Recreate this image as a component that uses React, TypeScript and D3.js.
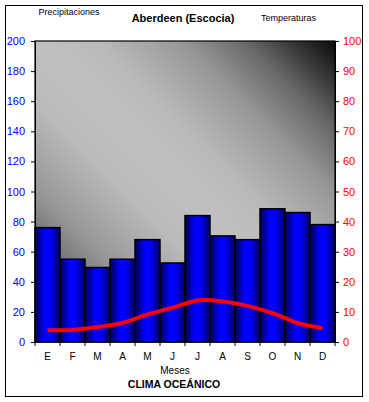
import React, { useEffect, useRef } from "react";
import * as d3 from "d3";

const months = ["E", "F", "M", "A", "M", "J", "J", "A", "S", "O", "N", "D"];
const precipitation = [76, 55, 49.5, 55, 68, 52.5, 84, 70.5, 68, 88.5, 86, 78];
const temperature = [3.9, 4.0, 5.0, 6.3, 9.2, 11.4, 13.8, 13.5, 12.0, 9.6, 6.3, 4.6];
const precipTicks = [0, 20, 40, 60, 80, 100, 120, 140, 160, 180, 200];
const tempTicks = [0, 10, 20, 30, 40, 50, 60, 70, 80, 90, 100];

const FONT = "'Liberation Sans', Arial, sans-serif";

const ClimateChart = () => {
  const svgRef = useRef<SVGSVGElement | null>(null);

  useEffect(() => {
    drawChart();
  }, []);

  const drawChart = () => {
    const svg = d3.select(svgRef.current);
    svg.selectAll("*").remove();

    const plot = { left: 35, right: 335, top: 41, bottom: 342 };

    const defs = svg.append("defs");

    // plot background: dark corners, wide light diagonal band
    const bg = defs
      .append("linearGradient")
      .attr("id", "bg")
      .attr("x1", 0)
      .attr("y1", 1)
      .attr("x2", 1)
      .attr("y2", 0);
    [
      [0, "#0a0a0a"],
      [0.07, "#353535"],
      [0.15, "#686868"],
      [0.26, "#989898"],
      [0.4, "#bababa"],
      [0.5, "#c0c0c0"],
      [0.6, "#bababa"],
      [0.74, "#989898"],
      [0.85, "#686868"],
      [0.93, "#353535"],
      [1, "#0a0a0a"],
    ].forEach(([o, c]) => bg.append("stop").attr("offset", o).attr("stop-color", c));

    // bar shading: dark edges, bright blue centre
    const bar = defs.append("linearGradient").attr("id", "bar").attr("x1", 0).attr("x2", 1).attr("y1", 0).attr("y2", 0);
    [
      [0, "#000050"],
      [0.4, "#0000ff"],
      [0.6, "#0000ff"],
      [1, "#000060"],
    ].forEach(([o, c]) => bar.append("stop").attr("offset", o).attr("stop-color", c));

    // outer frame
    svg
      .append("rect")
      .attr("x", 5.5)
      .attr("y", 5.5)
      .attr("width", 357)
      .attr("height", 391)
      .attr("fill", "white")
      .attr("stroke", "black")
      .attr("stroke-width", 1);

    // Scales
    const x = d3.scaleBand().domain(d3.range(12).map(String)).range([plot.left, plot.right]).padding(0);
    const yLeft = d3.scaleLinear().domain([0, 200]).range([plot.bottom, plot.top]);
    const yRight = d3.scaleLinear().domain([0, 100]).range([plot.bottom, plot.top]);

    svg
      .append("rect")
      .attr("x", plot.left)
      .attr("y", plot.top)
      .attr("width", plot.right - plot.left)
      .attr("height", plot.bottom - plot.top)
      .attr("fill", "url(#bg)");

    // Bars
    svg
      .append("g")
      .selectAll("rect")
      .data(precipitation)
      .join("rect")
      .attr("x", (d, i) => x(String(i))!)
      .attr("y", (d) => yLeft(d))
      .attr("width", x.bandwidth())
      .attr("height", (d) => plot.bottom - yLeft(d))
      .attr("fill", "url(#bar)")
      .attr("stroke", "black")
      .attr("stroke-width", 1.5);

    // Temperature line
    const line = d3
      .line<number>()
      .x((d, i) => x(String(i))! + x.bandwidth() / 2)
      .y((d) => yRight(d))
      .curve(d3.curveCatmullRom);

    svg
      .append("path")
      .datum(temperature)
      .attr("fill", "none")
      .attr("stroke", "#ff0000")
      .attr("stroke-width", 4)
      .attr("d", line);

    // Axes
    const leftAxis = svg
      .append("g")
      .attr("transform", `translate(${plot.left},0)`)
      .call(d3.axisLeft(yLeft).tickValues(precipTicks).tickSize(4).tickPadding(6).tickSizeOuter(0));
    leftAxis.selectAll("text").attr("fill", "#0000ff");

    const rightAxis = svg
      .append("g")
      .attr("transform", `translate(${plot.right},0)`)
      .call(d3.axisRight(yRight).tickValues(tempTicks).tickSize(4).tickPadding(4).tickSizeOuter(0));
    rightAxis.selectAll("text").attr("fill", "#ff0000");

    const bottomAxis = svg
      .append("g")
      .attr("transform", `translate(0,${plot.bottom})`)
      .call(
        d3
          .axisBottom(x)
          .tickFormat((d) => months[+d])
          .tickSize(0)
          .tickPadding(11)
      );
    bottomAxis.select(".domain").remove();

    // boundary ticks between months
    svg
      .append("g")
      .selectAll("line")
      .data(d3.range(13))
      .join("line")
      .attr("x1", (d) => plot.left + d * x.bandwidth())
      .attr("x2", (d) => plot.left + d * x.bandwidth())
      .attr("y1", plot.bottom)
      .attr("y2", plot.bottom + 4)
      .attr("stroke", "black");

    [leftAxis, rightAxis, bottomAxis].forEach((g) =>
      g.attr("font-family", FONT).attr("font-size", 11).selectAll("line").attr("stroke", "black")
    );
    bottomAxis.attr("font-size", 10);

    // plot border
    svg
      .append("rect")
      .attr("x", plot.left)
      .attr("y", plot.top)
      .attr("width", plot.right - plot.left)
      .attr("height", plot.bottom - plot.top)
      .attr("fill", "none")
      .attr("stroke", "black")
      .attr("stroke-width", 1.2);

    // Titles
    const text = (tx: number, ty: number, s: string, size: number, bold: boolean, anchor = "middle") =>
      svg
        .append("text")
        .attr("x", tx)
        .attr("y", ty)
        .attr("text-anchor", anchor)
        .attr("font-family", FONT)
        .attr("font-size", size)
        .attr("font-weight", bold ? "bold" : "normal")
        .attr("fill", "black")
        .text(s);

    text(69, 15, "Precipitaciones", 9, false);
    text(183, 22, "Aberdeen (Escocia)", 11, true);
    text(288.5, 21, "Temperaturas", 9, false);
    text(175, 374, "Meses", 10, false);
    text(174, 388, "CLIMA OCEÁNICO", 10.5, true);
  };

  return (
    <svg
      ref={svgRef}
      width="369"
      height="402"
      style={{ position: "absolute", left: 0, top: 0, display: "block" }}
    ></svg>
  );
};

export default function App() {
  return <ClimateChart />;
}
